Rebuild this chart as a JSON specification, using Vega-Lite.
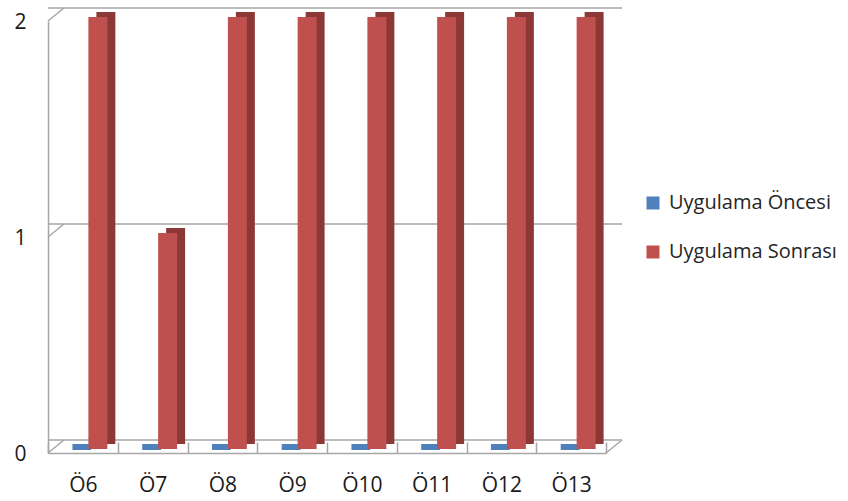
{
  "$schema": "https://vega.github.io/schema/vega-lite/v6.json",
  "width": 558,
  "height": 432,
  "autosize": {"type": "none"},
  "padding": {"left": 48, "top": 21, "right": 242, "bottom": 48},
  "background": "white",
  "config": {"view": {"stroke": null}, "font": "Open Sans"},
  "datasets": {
    "scores": [
      {"cat": "Ö6", "series": "Uygulama Öncesi", "value": 0},
      {"cat": "Ö6", "series": "Uygulama Sonrası", "value": 2},
      {"cat": "Ö7", "series": "Uygulama Öncesi", "value": 0},
      {"cat": "Ö7", "series": "Uygulama Sonrası", "value": 1},
      {"cat": "Ö8", "series": "Uygulama Öncesi", "value": 0},
      {"cat": "Ö8", "series": "Uygulama Sonrası", "value": 2},
      {"cat": "Ö9", "series": "Uygulama Öncesi", "value": 0},
      {"cat": "Ö9", "series": "Uygulama Sonrası", "value": 2},
      {"cat": "Ö10", "series": "Uygulama Öncesi", "value": 0},
      {"cat": "Ö10", "series": "Uygulama Sonrası", "value": 2},
      {"cat": "Ö11", "series": "Uygulama Öncesi", "value": 0},
      {"cat": "Ö11", "series": "Uygulama Sonrası", "value": 2},
      {"cat": "Ö12", "series": "Uygulama Öncesi", "value": 0},
      {"cat": "Ö12", "series": "Uygulama Sonrası", "value": 2},
      {"cat": "Ö13", "series": "Uygulama Öncesi", "value": 0},
      {"cat": "Ö13", "series": "Uygulama Sonrası", "value": 2}
    ],
    "grid": [{"value": 0}, {"value": 1}, {"value": 2}],
    "edges": [{"p": 0, "value": 0}, {"p": 0, "value": 1}, {"p": 0, "value": 2}, {"p": 1, "value": 0}]
  },
  "layer": [
    {
      "data": {"name": "grid"},
      "mark": {"type": "rule", "color": "#A6A6A6", "strokeWidth": 1.5, "xOffset": 16, "x2Offset": 16, "yOffset": -13},
      "encoding": {
        "y": {"field": "value", "type": "quantitative", "scale": {"domain": [0, 2], "nice": false},
          "axis": {"title": null, "values": [0, 1, 2], "format": ".0f", "labelOverlap": false, "ticks": false, "grid": false, "labelFontSize": 21, "labelColor": "#1a1a1a", "labelPadding": 22, "labelOffset": 1, "domainColor": "#A6A6A6", "domainWidth": 1.5}}
      }
    },
    {
      "data": {"name": "edges"},
      "mark": {"type": "rule", "color": "#A6A6A6", "strokeWidth": 1.5, "x2Offset": 16, "y2Offset": -13},
      "encoding": {
        "x": {"field": "p", "type": "quantitative", "scale": {"domain": [0, 1], "nice": false, "zero": false}, "axis": null},
        "x2": {"field": "p"},
        "y": {"field": "value", "type": "quantitative"},
        "y2": {"field": "value"}
      }
    },
    {
      "data": {"name": "scores"},
      "transform": [{"filter": "datum.series === 'Uygulama Öncesi'"}],
      "mark": {"type": "bar", "width": {"band": 0.27}, "xOffset": -1, "yOffset": -9, "y2Offset": -3},
      "encoding": {
        "x": {"field": "cat", "type": "nominal", "sort": null, "scale": {"paddingInner": 0, "paddingOuter": 0}, "axis": null},
        "y": {"field": "value", "type": "quantitative"},
        "y2": {"field": "value"},
        "color": {"field": "series", "type": "nominal", "scale": {"domain": ["Uygulama Öncesi", "Uygulama Sonrası"], "range": ["#4F81BD", "#C0504D"]},
          "legend": {"title": null, "orient": "none", "legendX": 595, "legendY": 172, "symbolType": "square", "symbolSize": 169, "labelFontSize": 20, "labelLimit": 300, "labelOffset": 6, "rowPadding": 29, "labelColor": "#262626", "symbolStrokeWidth": 0}}
      }
    },
    {
      "data": {"name": "scores"},
      "transform": [{"filter": "datum.series === 'Uygulama Sonrası'"}],
      "mark": {"type": "bar", "width": {"band": 0.272}, "xOffset": 23, "yOffset": -9, "y2Offset": -9, "color": "#8C3836"},
      "encoding": {
        "x": {"field": "cat", "type": "nominal", "sort": null, "scale": {"paddingInner": 0, "paddingOuter": 0}, "axis": null},
        "y": {"field": "value", "type": "quantitative"}
      }
    },
    {
      "data": {"name": "scores"},
      "transform": [{"filter": "datum.series === 'Uygulama Sonrası'"}],
      "mark": {"type": "bar", "width": {"band": 0.272}, "xOffset": 15, "yOffset": -4, "y2Offset": -4},
      "encoding": {
        "x": {"field": "cat", "type": "nominal", "sort": null, "scale": {"paddingInner": 0, "paddingOuter": 0},
          "axis": {"title": null, "labelAngle": 0, "labelFontSize": 21, "labelColor": "#1a1a1a", "labelPadding": 32, "domainColor": "#A6A6A6", "domainWidth": 1.5, "tickColor": "#A6A6A6", "tickWidth": 1.5, "tickSize": -11, "tickBand": "extent"}},
        "y": {"field": "value", "type": "quantitative"},
        "color": {"field": "series", "type": "nominal"}
      }
    }
  ],
  "resolve": {"scale": {"x": "independent"}}
}
